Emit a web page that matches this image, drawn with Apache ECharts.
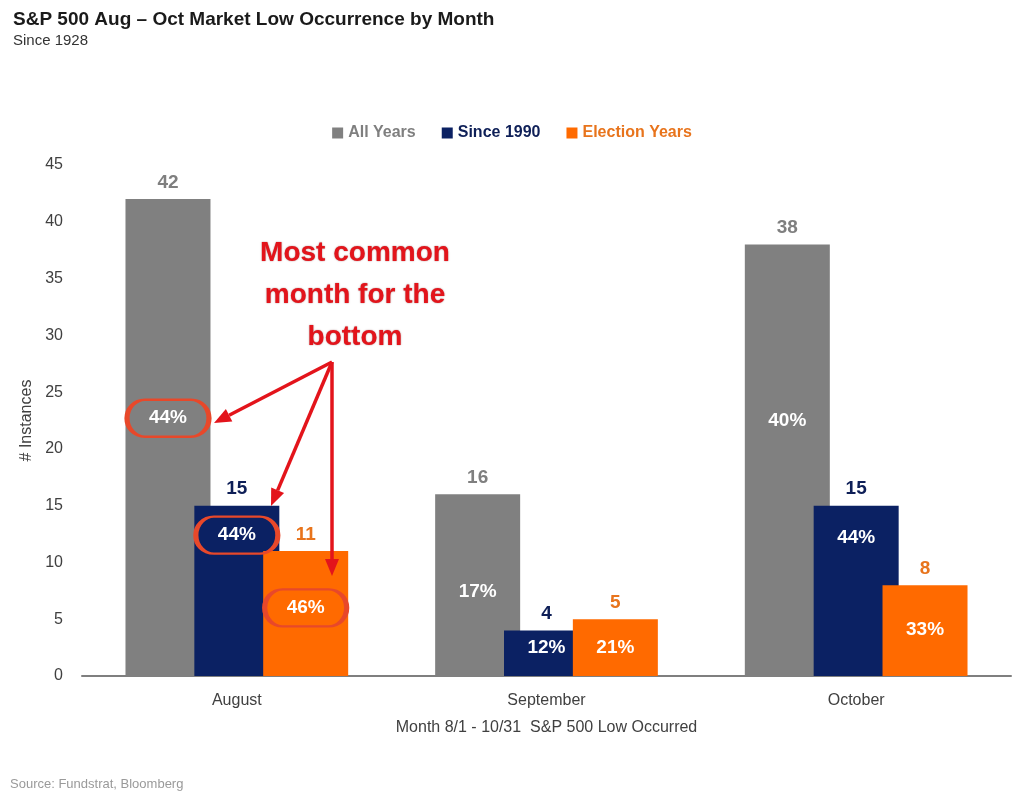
<!DOCTYPE html>
<html>
<head>
<meta charset="utf-8">
<script src="https://cdn.jsdelivr.net/npm/echarts@6/dist/echarts.min.js"></script>
<style>
html,body{margin:0;padding:0;background:#fff;}
#chart{width:1024px;height:802px;}
</style>
</head>
<body>
<div id="chart"></div>
<script>
// ---- data ----
const categories = ['August', 'September', 'October'];
const seriesNames = ['All Years', 'Since 1990', 'Election Years'];
const allYears = [42, 16, 38];
const since1990 = [15, 4, 15];
const electionYears = [11, 5, 8];
// share of occurrences (%) written inside the bars
const pctAllYears = [44, 17, 40];
const pctSince1990 = [44, 12, 44];
const pctElection = [46, 21, 33];
// height (in # instances) at which each percentage label sits
const pctYAll = [22.7, 7.4, 22.5];
const pctY1990 = [12.4, 2.5, 12.2];
const pctYElection = [6.0, 2.5, 4.1];
// which percentages are circled (August)
const circled = [true, false, false];
const yTicks = { min: 0, max: 45, interval: 5 };

// ---- styles ----
const FONT = '"Liberation Sans", Arial, sans-serif';
const barColors = ['#808080', '#0b2163', '#ff6a00'];
const topLabelColors = ['#7f7f7f', '#0e1f57', '#e8741c'];
const RED = '#e3141b';
const RING = '#e8482a';

const pill = 'path://M18,0 L64,0 A18,18 0 0 1 64,36 L18,36 A18,18 0 0 1 18,0 Z';

function pctMarks(pcts, ys) {
  return pcts.map((p, i) => ({
    name: p + '%',
    coord: [i, ys[i]],
    symbol: circled[i] ? pill : 'rect',
    symbolSize: circled[i] ? [82, 37] : [1, 1],
    itemStyle: circled[i]
      ? { color: 'rgba(0,0,0,0)', borderColor: RING, borderWidth: 3.5 }
      : { color: 'rgba(0,0,0,0)' }
  }));
}

function barSeries(idx, values, pcts, ys) {
  return {
    name: seriesNames[idx],
    type: 'bar',
    data: values,
    barWidth: 85,
    barGap: '-19%',
    itemStyle: { color: barColors[idx] },
    label: {
      show: true,
      position: 'top',
      distance: 7,
      color: topLabelColors[idx],
      fontFamily: FONT,
      fontWeight: 'bold',
      fontSize: 19
    },
    markPoint: {
      silent: true,
      data: pctMarks(pcts, ys),
      label: {
        show: true,
        position: 'inside',
        formatter: '{b}',
        color: '#ffffff',
        fontFamily: FONT,
        fontWeight: 'bold',
        fontSize: 19
      }
    }
  };
}

const chart = echarts.init(document.getElementById('chart'), null, { renderer: 'canvas' });

// arrow helper (annotation)
function arrow(x1, y1, x2, y2) {
  const ang = Math.atan2(y2 - y1, x2 - x1);
  const L = 17, W = 7;
  const bx = x2 - L * Math.cos(ang), by = y2 - L * Math.sin(ang);
  const px = -Math.sin(ang) * W, py = Math.cos(ang) * W;
  return [
    { type: 'line', shape: { x1: x1, y1: y1, x2: bx, y2: by }, style: { stroke: RED, lineWidth: 3.5 }, z: 20 },
    { type: 'polygon', shape: { points: [[x2, y2], [bx + px, by + py], [bx - px, by - py]] }, style: { fill: RED }, z: 20 }
  ];
}

const start = [332, 362];
const graphics = []
  .concat(arrow(start[0], start[1], 214, 423))
  .concat(arrow(start[0], start[1], 271, 506))
  .concat(arrow(start[0], start[1], 332, 576));

graphics.push({
  type: 'text',
  left: 10, top: 778,
  style: { text: 'Source: Fundstrat, Bloomberg', fill: '#9a9a9a', font: '13px ' + FONT },
  z: 20
});
graphics.push({
  type: 'text',
  x: 355, y: 232,
  style: {
    text: 'Most common\nmonth for the\nbottom',
    fill: RED,
    font: 'bold 28px ' + FONT,
    align: 'center',
    lineHeight: 42,
    textShadowColor: 'rgba(90,0,0,0.55)',
    textShadowBlur: 1.5
  },
  z: 20
});

chart.setOption({
  animation: false,
  backgroundColor: '#ffffff',
  title: {
    text: 'S&P 500 Aug – Oct Market Low Occurrence by Month',
    subtext: 'Since 1928',
    left: 8,
    top: 5,
    itemGap: 4,
    textStyle: { fontFamily: FONT, fontWeight: 'bold', fontSize: 19, color: '#1a1a1a' },
    subtextStyle: { fontFamily: FONT, fontSize: 15, color: '#333333' }
  },
  legend: {
    top: 120,
    left: 'center',
    icon: 'rect',
    itemWidth: 11,
    itemHeight: 11,
    itemGap: 26,
    selectedMode: false,
    textStyle: { fontFamily: FONT, fontWeight: 'bold', fontSize: 16 },
    data: seriesNames.map((n, i) => ({ name: n, textStyle: { color: topLabelColors[i] } }))
  },
  grid: { left: 82, right: 13, top: 165, bottom: 126 },
  xAxis: {
    type: 'category',
    data: categories,
    name: 'Month 8/1 - 10/31  S&P 500 Low Occurred',
    nameLocation: 'middle',
    nameGap: 44,
    nameTextStyle: { fontFamily: FONT, fontSize: 16, color: '#404040' },
    axisLine: { lineStyle: { color: '#7f7f7f', width: 2 } },
    axisTick: { show: false },
    axisLabel: { fontFamily: FONT, fontSize: 16, color: '#404040', margin: 17 }
  },
  yAxis: {
    type: 'value',
    min: yTicks.min,
    max: yTicks.max,
    interval: yTicks.interval,
    name: '# Instances',
    nameLocation: 'middle',
    nameRotate: 90,
    nameGap: 36,
    nameTextStyle: { fontFamily: FONT, fontSize: 16, color: '#404040' },
    axisLine: { show: false },
    axisTick: { show: false },
    splitLine: { show: false },
    axisLabel: { fontFamily: FONT, fontSize: 16, color: '#404040', margin: 19 }
  },
  series: [
    barSeries(0, allYears, pctAllYears, pctYAll),
    barSeries(1, since1990, pctSince1990, pctY1990),
    barSeries(2, electionYears, pctElection, pctYElection)
  ],
  graphic: graphics
});
</script>
</body>
</html>
